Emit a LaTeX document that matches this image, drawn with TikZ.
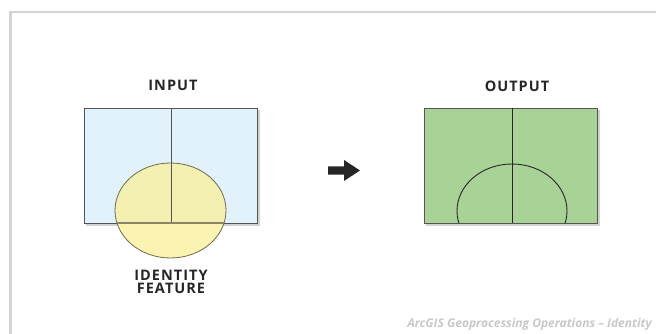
\documentclass[tikz,border=0pt]{standalone}
\usepackage{fontspec}
\setmainfont{Open Sans}
\newfontfamily\labfont[LetterSpace=7]{Open Sans Bold}
\newfontfamily\footfont{Open Sans Bold Italic}
\definecolor{frame}{RGB}{212,212,212}
\definecolor{inblue}{RGB}{226,242,252}
\definecolor{edge}{RGB}{85,85,85}
\definecolor{yel}{RGB}{250,243,177}
\definecolor{yelin}{RGB}{244,240,178}
\definecolor{elledge}{RGB}{110,105,80}
\definecolor{grn}{RGB}{168,210,150}
\definecolor{foot}{RGB}{200,200,200}
\tikzset{
  lab/.style={font=\labfont\fontsize{14.5}{14}\selectfont, text=black!85, align=center, inner sep=0pt},
  boxshadow/.style={fill=black!35, opacity=0.5},
}
\begin{document}
\begin{tikzpicture}[x=1pt,y=-1pt]
\useasboundingbox (0,0) rectangle (656,334);
% frame
\draw[frame, line width=2.5pt] (10.5,340) -- (10.5,12) -- (660,12);
% ---------- input ----------
\fill[boxshadow] (86,110) rectangle (259.5,225.5);
\fill[yel] (170.5,210.5) ellipse [x radius=55.5, y radius=47.5];
\fill[inblue] (84,108) rectangle (257,223);
\begin{scope}
  \clip (84,108) rectangle (257,223);
  \fill[yelin] (170.5,210.5) ellipse [x radius=55.5, y radius=47.5];
\end{scope}
\draw[edge, line width=0.8pt] (84,108) rectangle (257,223);
\draw[elledge, line width=0.8pt] (170.5,210.5) ellipse [x radius=55.5, y radius=47.5];
\draw[edge, line width=0.8pt] (171,108) -- (171,223);
\begin{scope}
  \clip (170.5,210.5) ellipse [x radius=55.5, y radius=47.5];
  \draw[elledge!80!yel, line width=1.2pt] (100,223) -- (240,223);
\end{scope}
\node[lab] (inlab) at (173,85.5) {INPUT};
\node[lab] (idlab) at (171,281.7) {IDENTITY\\[-1pt]FEATURE};
% ---------- arrow ----------
\fill[black!85] (328,166.5) -- (344,166.5) -- (344,160) -- (360,170.5) -- (344,181) -- (344,174.5) -- (328,174.5) -- cycle;
% ---------- output ----------
\fill[boxshadow] (426,110) rectangle (599.5,225.5);
\fill[grn] (424,108) rectangle (597,223);
\begin{scope}
  \clip (424,108) rectangle (597,223);
  \draw[black!85, line width=0.9pt] (512,211) ellipse [x radius=55, y radius=47];
\end{scope}
\draw[edge, line width=0.8pt] (424,108) rectangle (597,223);
\draw[black!85, line width=0.9pt] (512,108) -- (512,223);
\node[lab] (outlab) at (517,86.7) {OUTPUT};
% footer
\node[font=\footfont\fontsize{12}{14}\selectfont, text=foot, anchor=east, inner sep=0pt] (foot) at (652,324) {ArcGIS Geoprocessing Operations – Identity};
\end{tikzpicture}
\end{document}
